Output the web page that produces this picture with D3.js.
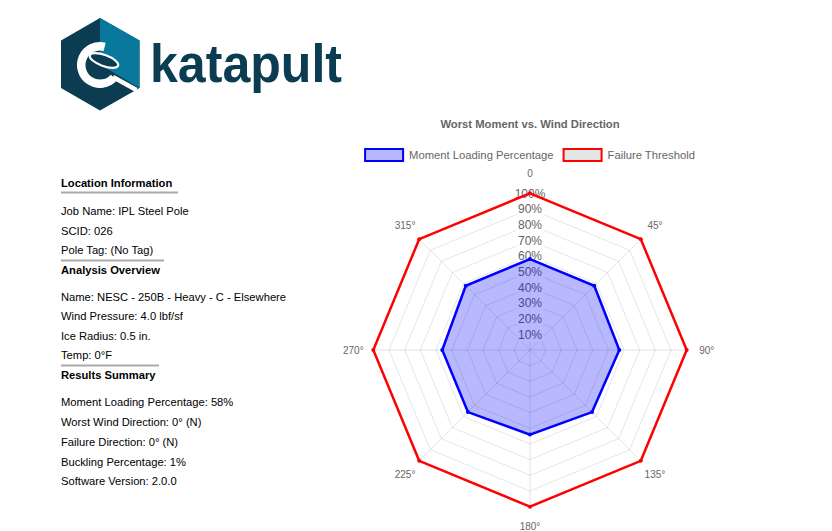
<!DOCTYPE html>
<html>
<head>
<meta charset="utf-8">
<script src="https://cdn.jsdelivr.net/npm/d3@7"></script>
<style>
  html, body { margin: 0; padding: 0; background: #fff; }
  svg { display: block; }
  text { font-family: "Liberation Sans", Arial, Helvetica, sans-serif; }
</style>
</head>
<body>
<svg id="chart" width="832" height="531"></svg>
<script>
// ---- data ----
const directions = ["0", "45°", "90°", "135°", "180°", "225°", "270°", "315°"];
const momentLoading = [58, 58, 57, 56, 54, 56, 56, 58];
const failureThreshold = [100, 100, 100, 100, 100, 100, 100, 100];
const tickValues = [10, 20, 30, 40, 50, 60, 70, 80, 90, 100];
const tickLabels = ["10%", "20%", "30%", "40%", "50%", "60%", "70%", "80%", "90%", "100%"];
const seriesNames = ["Moment Loading Percentage", "Failure Threshold"];
const chartTitle = "Worst Moment vs. Wind Direction";

const locationInfo = ["Job Name: IPL Steel Pole", "SCID: 026", "Pole Tag: (No Tag)"];
const analysisInfo = ["Name: NESC - 250B - Heavy - C - Elsewhere", "Wind Pressure: 4.0 lbf/sf", "Ice Radius: 0.5 in.", "Temp: 0°F"];
const resultsInfo = ["Moment Loading Percentage: 58%", "Worst Wind Direction: 0° (N)", "Failure Direction: 0° (N)", "Buckling Percentage: 1%", "Software Version: 2.0.0"];

const svg = d3.select("#chart");

// ---- logo ----
const logo = svg.append("g");
const dark = "#0b3c51", light = "#08789d";
const hex = [[100,18],[139.5,40.5],[139.5,88],[100,110.5],[61,88],[61,40.5]];
logo.append("path").attr("d", "M" + hex.join("L") + "Z").attr("fill", dark);
logo.append("path").attr("d", "M100,18L139.5,40.5L139.5,88L100,64.5Z").attr("fill", light);
logo.append("path").attr("transform", "translate(100,65)")
  .attr("d", d3.arc().innerRadius(14.5).outerRadius(23).startAngle(0.25).endAngle(2.3 - 2 * Math.PI)())
  .attr("fill", "#fff");
logo.append("ellipse").attr("cx", 104).attr("cy", 60.5).attr("rx", 15).attr("ry", 5.5)
  .attr("transform", "rotate(20,104,60.5)")
  .attr("fill", dark).attr("stroke", "#fff").attr("stroke-width", 2.2);
logo.append("line").attr("x1", 113).attr("y1", 77).attr("x2", 136.5).attr("y2", 90)
  .attr("stroke", "#fff").attr("stroke-width", 4.5).attr("stroke-linecap", "butt");
logo.append("text").attr("x", 150).attr("y", 81.7)
  .attr("font-size", 53).attr("font-weight", "bold").attr("fill", dark)
  .attr("textLength", 192).attr("lengthAdjust", "spacingAndGlyphs")
  .text("katapult");

// ---- left info panel ----
const info = svg.append("g").attr("font-size", 11.2).attr("fill", "#000");
function textLine(y, str, bold) {
  info.append("text").attr("x", 61).attr("y", y).attr("dy", "0.35em")
    .attr("font-weight", bold ? "bold" : "normal").text(str);
}
function rule(y, x2) {
  info.append("line").attr("x1", 61).attr("x2", x2).attr("y1", y).attr("y2", y)
    .attr("stroke", "#a9a9a9").attr("stroke-width", 2);
}
textLine(183.5, "Location Information", true);
rule(192.5, 178);
locationInfo.forEach((s, i) => textLine(211.5 + i * 19.5, s));
rule(260.5, 164);
textLine(270, "Analysis Overview", true);
analysisInfo.forEach((s, i) => textLine(297 + i * 19.5, s));
rule(365.5, 159);
textLine(375.5, "Results Summary", true);
resultsInfo.forEach((s, i) => textLine(402.5 + i * 19.7, s));

// ---- radar chart ----
const cx = 530, cy = 350, R = 156.7;
const r = d3.scaleLinear().domain([0, 100]).range([0, R]);
const angle = d3.scalePoint().domain(d3.range(directions.length)).range([0, 2 * Math.PI * (directions.length - 1) / directions.length]);
const g = svg.append("g").attr("transform", `translate(${cx},${cy})`);
const pt = (i, v) => [Math.sin(angle(i)) * r(v), -Math.cos(angle(i)) * r(v)];
const gridColor = "rgba(0,0,0,0.1)";

// grid polygons
g.selectAll("path.grid").data(tickValues).join("path").attr("class", "grid")
  .attr("d", v => "M" + directions.map((d, i) => pt(i, v)).join("L") + "Z")
  .attr("fill", "none").attr("stroke", gridColor).attr("stroke-width", 1);
// angle lines
g.selectAll("line.spoke").data(directions).join("line").attr("class", "spoke")
  .attr("x1", 0).attr("y1", 0)
  .attr("x2", (d, i) => pt(i, 100)[0]).attr("y2", (d, i) => pt(i, 100)[1])
  .attr("stroke", gridColor).attr("stroke-width", 1);

// tick labels with backdrop
const tickG = g.append("g").attr("font-size", 12).attr("fill", "#666");
tickValues.forEach((v, i) => {
  const t = tickG.append("text").attr("x", 0).attr("y", -r(v)).attr("dy", "0.35em")
    .attr("text-anchor", "middle").text(tickLabels[i]);
  const bb = t.node().getBBox();
  tickG.insert("rect", "text").attr("x", bb.x - 2).attr("y", -r(v) - 7.5)
    .attr("width", bb.width + 4).attr("height", 15).attr("fill", "rgba(255,255,255,0.75)");
});

// datasets
const series = [
  { values: momentLoading, stroke: "#0000ff", fill: "rgba(0,0,255,0.28)" },
  { values: failureThreshold, stroke: "#ff0000", fill: "none" }
];
series.forEach(s => {
  g.append("path")
    .attr("d", "M" + s.values.map((v, i) => pt(i, v)).join("L") + "Z")
    .attr("fill", s.fill).attr("stroke", s.stroke).attr("stroke-width", 2.5)
    .attr("stroke-linejoin", "miter");
  g.selectAll(null).data(s.values).join("circle")
    .attr("cx", (v, i) => pt(i, v)[0]).attr("cy", (v, i) => pt(i, v)[1])
    .attr("r", 2).attr("fill", s.stroke);
});

// point labels
g.selectAll("text.plabel").data(directions).join("text").attr("class", "plabel")
  .attr("x", (d, i) => pt(i, 100)[0] + Math.sin(angle(i)) * 20)
  .attr("y", (d, i) => pt(i, 100)[1] - Math.cos(angle(i)) * 20)
  .attr("dy", "0.35em").attr("text-anchor", "middle")
  .attr("font-size", 10).attr("fill", "#666").text(d => d);

// title
svg.append("text").attr("x", cx).attr("y", 124).attr("dy", "0.35em")
  .attr("text-anchor", "middle").attr("font-size", 11.25).attr("font-weight", "bold")
  .attr("fill", "#666").text(chartTitle);

// legend
const legend = svg.append("g").attr("font-size", 11.25).attr("fill", "#666");
const boxW = 38, boxH = 12, gap = 6, itemGap = 10, ly = 155;
const legendFills = ["rgba(0,0,255,0.28)", "rgba(0,0,0,0.1)"];
const items = seriesNames.map((name, i) => {
  const t = legend.append("text").attr("y", ly).attr("dy", "0.35em").text(name);
  return { t, w: t.node().getComputedTextLength(), i };
});
const total = d3.sum(items, d => boxW + gap + d.w) + itemGap * (items.length - 1);
let lx = cx - total / 2;
items.forEach(d => {
  legend.append("rect").attr("x", lx).attr("y", ly - boxH / 2).attr("width", boxW).attr("height", boxH)
    .attr("fill", legendFills[d.i]).attr("stroke", series[d.i].stroke).attr("stroke-width", 2);
  d.t.attr("x", lx + boxW + gap);
  lx += boxW + gap + d.w + itemGap;
});
</script>
</body>
</html>
